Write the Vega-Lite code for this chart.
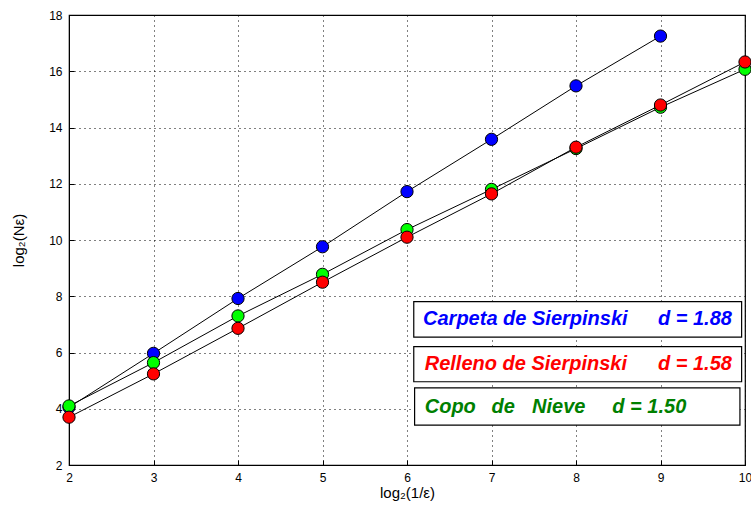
{
  "$schema": "https://vega.github.io/schema/vega-lite/v6.json",
  "width": 676,
  "height": 450,
  "autosize": "none",
  "padding": {"left": 69, "top": 15, "right": 6, "bottom": 48},
  "background": "white",
  "config": {
    "view": {"stroke": "black", "strokeWidth": 1.2},
    "font": "Liberation Sans",
    "axis": {
      "domainColor": "black",
      "tickColor": "black",
      "labelColor": "black",
      "titleColor": "black",
      "labelFont": "Liberation Sans",
      "titleFont": "Liberation Sans",
      "labelFontSize": 12,
      "titleFontSize": 15,
      "titleFontWeight": "normal",
      "gridColor": "black",
      "gridDash": [1, 4],
      "gridOpacity": 1,
      "gridWidth": 1,
      "tickSize": -5,
      "labelOverlap": false,
      "labelFlush": false,
      "format": "d"
    }
  },
  "datasets": {
    "pts": [
      {"x": 2, "y": 4.05, "s": "Carpeta"},
      {"x": 3, "y": 5.97, "s": "Carpeta"},
      {"x": 4, "y": 7.92, "s": "Carpeta"},
      {"x": 5, "y": 9.76, "s": "Carpeta"},
      {"x": 6, "y": 11.72, "s": "Carpeta"},
      {"x": 7, "y": 13.58, "s": "Carpeta"},
      {"x": 8, "y": 15.48, "s": "Carpeta"},
      {"x": 9, "y": 17.25, "s": "Carpeta"},
      {"x": 2, "y": 4.1, "s": "Copo"},
      {"x": 3, "y": 5.64, "s": "Copo"},
      {"x": 4, "y": 7.3, "s": "Copo"},
      {"x": 5, "y": 8.78, "s": "Copo"},
      {"x": 6, "y": 10.37, "s": "Copo"},
      {"x": 7, "y": 11.8, "s": "Copo"},
      {"x": 8, "y": 13.25, "s": "Copo"},
      {"x": 9, "y": 14.72, "s": "Copo"},
      {"x": 10, "y": 16.07, "s": "Copo"},
      {"x": 2, "y": 3.7, "s": "Relleno"},
      {"x": 3, "y": 5.24, "s": "Relleno"},
      {"x": 4, "y": 6.86, "s": "Relleno"},
      {"x": 5, "y": 8.5, "s": "Relleno"},
      {"x": 6, "y": 10.1, "s": "Relleno"},
      {"x": 7, "y": 11.64, "s": "Relleno"},
      {"x": 8, "y": 13.3, "s": "Relleno"},
      {"x": 9, "y": 14.8, "s": "Relleno"},
      {"x": 10, "y": 16.33, "s": "Relleno"}
    ],
    "one": [{}]
  },
  "layer": [
    {
      "data": {"name": "pts"},
      "mark": {"type": "line", "color": "black", "strokeWidth": 1, "clip": true},
      "encoding": {
        "x": {"field": "x", "type": "quantitative", "scale": {"domain": [2, 10], "nice": false, "zero": false},
              "axis": {"values": [2,3,4,5,6,7,8,9,10], "grid": true, "title": "log₂(1/ε)", "titlePadding": 2, "labelPadding": 12}},
        "y": {"field": "y", "type": "quantitative", "scale": {"domain": [2, 18], "nice": false, "zero": false},
              "axis": {"values": [2,4,6,8,10,12,14,16,18], "grid": true, "title": "log₂(Nε)", "titlePadding": 22, "labelPadding": 12}},
        "detail": {"field": "s"}
      }
    },
    {
      "data": {"name": "pts"},
      "mark": {"type": "point", "filled": true, "size": 150, "stroke": "black", "strokeWidth": 1, "opacity": 1, "clip": false},
      "encoding": {
        "x": {"field": "x", "type": "quantitative"},
        "y": {"field": "y", "type": "quantitative"},
        "fill": {"field": "s", "type": "nominal", "legend": null,
                 "scale": {"domain": ["Carpeta", "Copo", "Relleno"], "range": ["#0000ff", "#00ff00", "#ff0000"]}},
        "order": {"field": "s"}
      }
    },
    {
      "data": {"name": "one"},
      "mark": {"type": "rect", "fill": "white", "stroke": "black", "strokeWidth": 1.2},
      "encoding": {"x": {"datum": 6.08}, "x2": {"datum": 9.96}, "y": {"datum": 7.81}, "y2": {"datum": 6.55}}
    },
    {
      "data": {"name": "one"},
      "mark": {"type": "rect", "fill": "white", "stroke": "black", "strokeWidth": 1.2},
      "encoding": {"x": {"datum": 6.08}, "x2": {"datum": 9.96}, "y": {"datum": 6.21}, "y2": {"datum": 4.96}}
    },
    {
      "data": {"name": "one"},
      "mark": {"type": "rect", "fill": "white", "stroke": "black", "strokeWidth": 1.2},
      "encoding": {"x": {"datum": 6.09}, "x2": {"datum": 9.94}, "y": {"datum": 4.74}, "y2": {"datum": 3.42}}
    },
    {
      "data": {"name": "one"},
      "mark": {"type": "text", "align": "left", "baseline": "middle", "fontSize": 20, "fontStyle": "italic", "fontWeight": "bold", "font": "Liberation Sans", "color": "#0000ff", "text": "Carpeta de Sierpinski"},
      "encoding": {"x": {"datum": 6.19}, "y": {"datum": 7.18}}
    },
    {
      "data": {"name": "one"},
      "mark": {"type": "text", "align": "left", "baseline": "middle", "fontSize": 20, "fontStyle": "italic", "fontWeight": "bold", "font": "Liberation Sans", "color": "#0000ff", "text": "d = 1.88"},
      "encoding": {"x": {"datum": 8.97}, "y": {"datum": 7.18}}
    },
    {
      "data": {"name": "one"},
      "mark": {"type": "text", "align": "left", "baseline": "middle", "fontSize": 20, "fontStyle": "italic", "fontWeight": "bold", "font": "Liberation Sans", "color": "#ff0000", "text": "Relleno de Sierpinski"},
      "encoding": {"x": {"datum": 6.21}, "y": {"datum": 5.585}}
    },
    {
      "data": {"name": "one"},
      "mark": {"type": "text", "align": "left", "baseline": "middle", "fontSize": 20, "fontStyle": "italic", "fontWeight": "bold", "font": "Liberation Sans", "color": "#ff0000", "text": "d = 1.58"},
      "encoding": {"x": {"datum": 8.97}, "y": {"datum": 5.585}}
    },
    {
      "data": {"name": "one"},
      "mark": {"type": "text", "align": "left", "baseline": "middle", "fontSize": 20, "fontStyle": "italic", "fontWeight": "bold", "font": "Liberation Sans", "color": "#008000", "text": "Copo"},
      "encoding": {"x": {"datum": 6.21}, "y": {"datum": 4.08}}
    },
    {
      "data": {"name": "one"},
      "mark": {"type": "text", "align": "left", "baseline": "middle", "fontSize": 20, "fontStyle": "italic", "fontWeight": "bold", "font": "Liberation Sans", "color": "#008000", "text": "de"},
      "encoding": {"x": {"datum": 7.0}, "y": {"datum": 4.08}}
    },
    {
      "data": {"name": "one"},
      "mark": {"type": "text", "align": "left", "baseline": "middle", "fontSize": 20, "fontStyle": "italic", "fontWeight": "bold", "font": "Liberation Sans", "color": "#008000", "text": "Nieve"},
      "encoding": {"x": {"datum": 7.48}, "y": {"datum": 4.08}}
    },
    {
      "data": {"name": "one"},
      "mark": {"type": "text", "align": "left", "baseline": "middle", "fontSize": 20, "fontStyle": "italic", "fontWeight": "bold", "font": "Liberation Sans", "color": "#008000", "text": "d = 1.50"},
      "encoding": {"x": {"datum": 8.43}, "y": {"datum": 4.08}}
    }
  ]
}
